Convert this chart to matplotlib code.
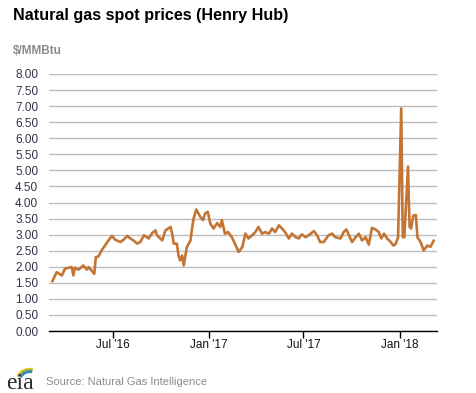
import matplotlib
matplotlib.use("Agg")
import matplotlib.pyplot as plt
from matplotlib.patches import Arc
import pandas as pd

plt.rcParams['font.family'] = ['Liberation Sans', 'DejaVu Sans']

# Henry Hub spot prices ($/MMBtu)
dates = [
    "2016-03-08", "2016-03-16", "2016-03-26", "2016-04-01", "2016-04-14", "2016-04-17",
    "2016-04-20", "2016-04-27", "2016-05-06", "2016-05-13", "2016-05-16", "2016-05-22",
    "2016-05-27", "2016-05-30", "2016-06-04", "2016-06-10", "2016-06-17", "2016-06-23",
    "2016-06-30", "2016-07-06", "2016-07-16", "2016-07-22", "2016-07-29", "2016-08-04",
    "2016-08-10", "2016-08-17", "2016-08-23", "2016-08-30", "2016-09-08", "2016-09-15",
    "2016-09-21", "2016-09-24", "2016-10-04", "2016-10-10", "2016-10-20", "2016-10-23",
    "2016-10-26", "2016-11-01", "2016-11-04", "2016-11-07", "2016-11-11", "2016-11-14",
    "2016-11-20", "2016-11-27", "2016-11-30", "2016-12-03", "2016-12-08", "2016-12-16",
    "2016-12-21", "2016-12-25", "2016-12-30", "2017-01-04", "2017-01-10", "2017-01-17",
    "2017-01-23", "2017-01-26", "2017-02-01", "2017-02-07", "2017-02-14", "2017-02-20",
    "2017-02-27", "2017-03-06", "2017-03-12", "2017-03-18", "2017-03-25", "2017-03-31",
    "2017-04-06", "2017-04-13", "2017-04-19", "2017-04-26", "2017-05-02", "2017-05-08",
    "2017-05-15", "2017-05-21", "2017-05-27", "2017-06-03", "2017-06-09", "2017-06-16",
    "2017-06-22", "2017-06-28", "2017-07-05", "2017-07-11", "2017-07-21", "2017-07-27",
    "2017-08-02", "2017-08-09", "2017-08-18", "2017-08-25", "2017-08-31", "2017-09-10",
    "2017-09-16", "2017-09-21", "2017-09-26", "2017-10-02", "2017-10-09", "2017-10-15",
    "2017-10-21", "2017-10-28", "2017-11-03", "2017-11-09", "2017-11-16", "2017-11-22",
    "2017-11-27", "2017-12-02", "2017-12-08", "2017-12-15", "2017-12-20", "2017-12-24",
    "2017-12-29", "2018-01-04", "2018-01-07", "2018-01-10", "2018-01-17", "2018-01-20",
    "2018-01-23", "2018-01-27", "2018-02-01", "2018-02-04", "2018-02-10", "2018-02-16",
    "2018-02-23", "2018-03-01", "2018-03-07",
]
prices = [
    1.55, 1.83, 1.73, 1.94, 1.99, 1.73,
    1.97, 1.91, 2.04, 1.91, 1.99, 1.88,
    1.78, 2.30, 2.32, 2.51, 2.67, 2.82,
    2.96, 2.84, 2.77, 2.84, 2.96, 2.88,
    2.82, 2.72, 2.77, 2.98, 2.88, 3.05,
    3.13, 2.98, 2.82, 3.13, 3.24, 3.03,
    2.72, 2.72, 2.35, 2.20, 2.35, 2.04,
    2.61, 2.82, 3.19, 3.50, 3.78, 3.55,
    3.45, 3.66, 3.71, 3.34, 3.19, 3.36,
    3.24, 3.45, 3.03, 3.08, 2.92, 2.72,
    2.46, 2.61, 3.03, 2.88, 2.98, 3.08,
    3.24, 3.03, 3.08, 3.03, 3.19, 3.08,
    3.29, 3.19, 3.08, 2.88, 3.03, 2.92,
    2.88, 3.01, 2.92, 2.98, 3.11, 2.98,
    2.77, 2.77, 2.98, 3.03, 2.92, 2.88,
    3.08, 3.16, 2.98, 2.77, 2.92, 3.03,
    2.82, 2.92, 2.69, 3.21, 3.16, 3.08,
    2.88, 3.03, 2.88, 2.77, 2.66, 2.70,
    2.92, 6.93, 2.92, 2.92, 5.12, 3.24,
    3.19, 3.59, 3.61, 2.92, 2.77, 2.51,
    2.66, 2.62, 2.81,
]
y_ticks = [0.0, 0.5, 1.0, 1.5, 2.0, 2.5, 3.0, 3.5, 4.0, 4.5, 5.0, 5.5, 6.0, 6.5, 7.0, 7.5, 8.0]
x_tick_dates = ["2016-07-01", "2017-01-01", "2017-07-01", "2018-01-01"]
x_tick_labels = ["Jul '16", "Jan '17", "Jul '17", "Jan '18"]

W, H = 477, 393
fig = plt.figure(figsize=(W / 100, H / 100), dpi=100)
ax = fig.add_axes([49.3 / W, 1 - 331 / H, (437.3 - 49.3) / W, (331 - 74) / H])

x = pd.to_datetime(dates)
ax.plot(x, prices, color='#c47533', linewidth=1.9, solid_joinstyle='round', zorder=3)

ax.set_ylim(0, 8)
ax.set_xlim(pd.Timestamp("2016-03-02"), pd.Timestamp("2018-03-14"))
ax.set_yticks(y_ticks)
ax.set_yticklabels([f"{v:.2f}" for v in y_ticks])
ax.set_xticks(pd.to_datetime(x_tick_dates))
ax.set_xticklabels(x_tick_labels)

ax.grid(axis='y', color='#bdbdbd', linewidth=1.0, zorder=0)
ax.grid(axis='x', visible=False)
for s in ['top', 'right', 'left']:
    ax.spines[s].set_visible(False)
ax.spines['bottom'].set_color('black')
ax.spines['bottom'].set_linewidth(1.0)
ax.tick_params(axis='y', length=0, pad=8, labelsize=8.5, labelcolor='#33334a')
ax.tick_params(axis='x', length=5, width=1, color='black', pad=1, labelsize=8.5, labelcolor='#111111')
ax.set_axisbelow(True)

fig.text(13 / W, 1 - 20 / H, "Natural gas spot prices (Henry Hub)", fontsize=11.6,
         fontweight='bold', color='black', ha='left', va='baseline')
fig.text(13 / W, 1 - 54 / H, "$/MMBtu", fontsize=8.5, fontweight='bold',
         color='#8c8c8c', ha='left', va='baseline')
fig.text(46 / W, 1 - 385 / H, "Source: Natural Gas Intelligence", fontsize=8.0,
         color='#8c8c8c', ha='left', va='baseline')

# eia logo approximation
fig.text(6 / W, 1 - 389 / H, "eia", fontsize=17, family='Liberation Serif',
         color='#2b2b2b', ha='left', va='baseline')
lax = fig.add_axes([6 / W, 1 - 380 / H, 30 / W, 14 / H])
lax.set_xlim(0, 30)
lax.set_ylim(0, 14)
lax.axis('off')
for r, c in [(13, '#f2c12e'), (11.3, '#7cb342'), (9.6, '#2e8bc9')]:
    lax.add_patch(Arc((24, 0), 2 * r, 2 * r * 0.85, theta1=75, theta2=165, color=c, lw=1.7))

fig.savefig("out.png", dpi=100)
